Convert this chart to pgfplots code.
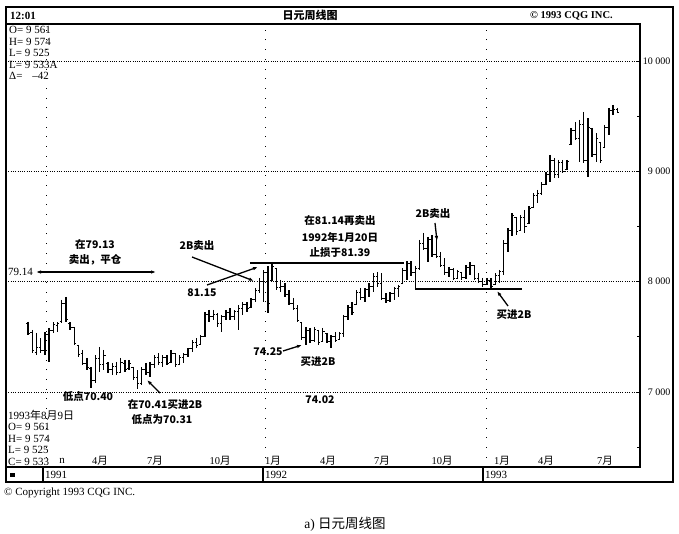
\documentclass[border=0pt]{standalone}
\usepackage{pgfplots}
\pgfplotsset{compat=1.18}
\usepackage{pgfplotstable}
\usepackage{fontspec}
\setmainfont{Liberation Serif}
\newfontfamily\cjk{Noto Sans CJK SC}
\usetikzlibrary{arrows.meta}

\pgfdeclareplotmark{otick}{\pgfpathmoveto{\pgfqpoint{-1.9pt}{0pt}}\pgfpathlineto{\pgfqpoint{0pt}{0pt}}\pgfusepathqstroke}
\pgfdeclareplotmark{ctick}{\pgfpathmoveto{\pgfqpoint{0pt}{0pt}}\pgfpathlineto{\pgfqpoint{1.9pt}{0pt}}\pgfusepathqstroke}

\pgfplotstableread{
i h l o c
0 7637 7517 7620 7530
1 7562 7353 7540 7380
2 7535 7335 7360 7400
3 7489 7353 7400 7380
4 7544 7335 7380 7520
5 7580 7272 7520 7560
6 7634 7535 7560 7610
7 7634 7544 7600 7620
8 7834 7625 7640 7800
9 7861 7634 7800 7660
10 7634 7562 7620 7580
11 7589 7426 7580 7440
12 7426 7317 7420 7340
13 7381 7245 7350 7260
14 7308 7199 7260 7220
15 7227 7040 7210 7100
16 7335 7082 7100 7300
17 7408 7181 7300 7250
18 7381 7199 7250 7330
19 7272 7172 7260 7200
20 7263 7154 7200 7230
21 7272 7154 7230 7180
22 7308 7172 7180 7270
23 7290 7181 7260 7200
24 7290 7199 7210 7260
25 7227 7109 7220 7130
26 7199 7031 7130 7080
27 7227 7063 7080 7200
28 7263 7154 7200 7180
29 7272 7136 7180 7250
30 7335 7218 7250 7310
31 7353 7245 7310 7270
32 7335 7227 7270 7310
33 7335 7245 7310 7260
34 7381 7263 7270 7350
35 7353 7227 7350 7250
36 7335 7245 7250 7310
37 7353 7263 7310 7340
38 7399 7317 7340 7390
39 7471 7363 7390 7450
40 7489 7399 7450 7420
41 7517 7426 7430 7500
42 7725 7498 7500 7700
43 7743 7634 7700 7680
44 7743 7653 7680 7700
45 7716 7589 7700 7620
46 7698 7544 7620 7680
47 7743 7653 7680 7720
48 7761 7653 7720 7680
49 7743 7653 7680 7730
50 7788 7562 7730 7760
51 7816 7698 7760 7790
52 7816 7725 7790 7760
53 7852 7761 7770 7840
54 7943 7816 7840 7920
55 8033 7897 7920 8000
56 8106 7816 8000 8080
57 8142 7716 8080 7800
58 8178 8006 8010 8140
59 8124 7924 8120 7950
60 8015 7906 7950 7960
61 7988 7861 7960 7880
62 7924 7788 7880 7800
63 7852 7743 7800 7760
64 7788 7634 7760 7650
65 7634 7471 7630 7490
66 7589 7426 7490 7560
67 7580 7444 7560 7470
68 7589 7453 7470 7570
69 7562 7426 7560 7450
70 7580 7453 7460 7550
71 7535 7444 7530 7460
72 7517 7402 7460 7500
73 7544 7453 7500 7470
74 7544 7471 7480 7530
75 7698 7498 7530 7680
76 7788 7653 7680 7770
77 7816 7698 7770 7720
78 7924 7788 7790 7900
79 7943 7834 7900 7860
80 7943 7816 7860 7930
81 7988 7861 7930 7960
82 8078 7906 7960 8050
83 8088 7952 8050 7980
84 8078 7834 7980 7850
85 7897 7807 7850 7830
86 7906 7816 7830 7890
87 7952 7834 7890 7940
88 7970 7861 7940 7960
89 8124 7979 7980 8100
90 8187 8015 8100 8160
91 8187 8051 8160 8080
92 8142 7943 8080 8120
93 8378 8106 8120 8350
94 8441 8287 8350 8300
95 8405 8178 8300 8380
96 8423 8224 8380 8250
97 8396 8214 8250 8230
98 8269 8133 8230 8150
99 8214 8060 8150 8080
100 8133 8042 8080 8110
101 8124 8015 8110 8030
102 8106 8024 8030 8090
103 8088 8015 8080 8040
104 8151 8024 8040 8130
105 8178 8060 8130 8150
106 8151 8015 8150 8030
107 8078 7988 8030 8000
108 8033 7952 8000 7970
109 8033 7970 7975 8010
110 8033 7943 8010 7960
111 8078 7970 7975 8060
112 8106 7988 8060 8090
113 8378 8060 8090 8350
114 8486 8269 8350 8460
115 8622 8414 8460 8600
116 8586 8423 8580 8450
117 8604 8459 8460 8580
118 8650 8441 8580 8500
119 8686 8523 8530 8660
120 8804 8668 8670 8780
121 8831 8713 8780 8800
122 8903 8785 8800 8880
123 8994 8876 8880 8970
124 9148 8903 8970 9100
125 9121 8940 9100 8970
126 9103 8940 8970 9080
127 9103 8985 9080 9000
128 9103 9012 9020 9090
129 9393 9239 9240 9370
130 9447 9284 9370 9300
131 9465 9085 9300 9420
132 9538 9076 9420 9100
133 9483 8949 9100 9400
134 9393 9130 9390 9150
135 9347 9085 9150 9300
136 9266 9076 9260 9100
137 9420 9211 9220 9400
138 9574 9329 9400 9550
139 9601 9511 9550 9560
140 9574 9525 9561 9533
}\data

\tikzset{
  cn/.style={font=\cjk\bfseries\fontsize{10.5}{12}\selectfont, inner sep=0pt},
  lt/.style={font=\fontsize{11}{12}\selectfont, inner sep=0pt},
  arr/.style={-{Latex[length=5pt,width=3.5pt]}, line width=1.3pt},
}

\begin{document}
\begin{tikzpicture}
\useasboundingbox (0pt,0pt) rectangle (679pt,-534pt);
\begin{axis}[
  at={(6pt,-467pt)}, anchor=south west,
  width=634pt, height=443pt, scale only axis,
  xmin=-5.23, xmax=145.37, ymin=6320, ymax=10335,
  axis line style={line width=1.2pt},
  xtick=\empty,
  extra x ticks={4.28,56.3,108.8},
  extra x tick labels={},
  extra x tick style={grid=major, major tick length=0pt,
     grid style={black, line width=0.7pt, dash pattern=on 0.7pt off 9pt}},
  ytick={7000,8000,9000,10000},
  yticklabels={7 000,8 000,9 000,10 000},
  scaled y ticks=false,
  minor ytick={6500,7500,8500,9500},
  ytick pos=right, yticklabel pos=right,
  tick align=inside,
  major tick length=3pt, minor tick length=3pt,
  tick style={black, line width=0.8pt},
  ymajorgrids,
  grid style={black, line width=0.6pt, dash pattern=on 0.6pt off 1.7pt},
  yticklabel style={font=\fontsize{10}{11}\selectfont, anchor=east, xshift=34pt},
  clip=false,
]
\addplot[draw=none, no markers,
  error bars/.cd, y dir=minus, y explicit, error mark=none,
  error bar style={draw=black, solid, line width=1.4pt}]
  table[x=i, y=h, y error minus expr=\thisrow{h}-\thisrow{l}] {\data};
\addplot[only marks, mark=otick, black, mark options={line width=1pt}] table[x=i, y=o] {\data};
\addplot[only marks, mark=ctick, black, mark options={line width=1pt}] table[x=i, y=c] {\data};
\addplot[black, line width=1.8pt, mark=none] coordinates {(52.7,8169) (89.3,8169)};
\addplot[black, line width=1.8pt, mark=none] coordinates {(91.9,7933) (117.3,7933)};
\end{axis}

\begin{scope}[x=1pt,y=1pt]
% frames
\draw[line width=1.5pt] (6,-7) rectangle (673,-482);
\draw[line width=1.2pt] (6,-467) -- (640,-467);
\foreach \xx in {43,263,483} \draw[line width=1.2pt] (\xx,-467) -- (\xx,-482);
\fill (10,-472.5) rectangle (14.5,-477);

% header
\node[lt, anchor=west, font=\bfseries\fontsize{11}{12}\selectfont] at (10,-15.5) {12:01};
\node[cn, font=\cjk\bfseries\fontsize{11}{12}\selectfont] at (310,-15.5) {日元周线图};
\node[lt, anchor=west, font=\bfseries\fontsize{10.5}{12}\selectfont] at (530,-15.5) {© 1993 CQG INC.};

% top-left info
\node[lt, anchor=west] at (9,-30) {O= 9 561};
\node[lt, anchor=west] at (9,-42) {H= 9 574};
\node[lt, anchor=west] at (9,-53) {L= 9 525};
\node[lt, anchor=west] at (9,-64.5) {L= 9 533A};
\node[lt, anchor=west] at (9,-76) {Δ=\hspace{10pt}--42};

% bottom-left info
\node[lt, anchor=west] at (8,-415) {1993{\cjk 年}8{\cjk 月}9{\cjk 日}};
\node[lt, anchor=west] at (8,-427) {O= 9 561};
\node[lt, anchor=west] at (8,-439) {H= 9 574};
\node[lt, anchor=west] at (8,-450) {L= 9 525};
\node[lt, anchor=west] at (8,-462) {C= 9 533};
\node[lt] at (62,-461) {n};

% month labels
\foreach \px/\m in {100/4,155/7,220/10,273/1,328/4,382/7,442/10,502/1,546/4,605/7}
  \node[lt, font=\fontsize{10.5}{12}\selectfont] at (\px,-461) {\m{\cjk 月}};

% year labels
\node[lt, anchor=west] at (45,-475) {1991};
\node[lt, anchor=west] at (265,-475) {1992};
\node[lt, anchor=west] at (485,-475) {1993};

% annotations
\node[cn] at (95,-245) {在79.13};
\node[cn] at (95,-260) {卖出，平仓};
\node[lt, anchor=west] at (8,-272) {79.14};
\draw[{Latex[length=5pt,width=3.5pt]}-{Latex[length=5pt,width=3.5pt]}, line width=1.2pt] (36,-272) -- (156,-272);

\node[cn] at (197,-246) {2B卖出};
\draw[arr] (192,-257) -- (254,-281);
\node[cn] at (202,-293) {81.15};
\draw[arr] (207,-285) -- (258,-267);

\node[cn] at (340,-221) {在81.14再卖出};
\node[cn] at (340,-237) {1992年1月20日};
\node[cn] at (340,-253) {止损于81.39};

\node[cn] at (268,-352) {74.25};
\draw[arr] (283,-351) -- (302,-345);
\node[cn] at (318,-362) {买进2B};
\node[cn] at (320,-400) {74.02};

\node[cn] at (88,-397) {低点70.40};
\node[cn] at (165,-405) {在70.41买进2B};
\node[cn] at (162,-420) {低点为70.31};
\draw[arr] (160,-393) -- (147,-380);

\node[cn] at (433,-214) {2B卖出};
\draw[arr] (435,-223) -- (437,-241);
\node[cn] at (514,-315) {买进2B};
\draw[arr] (508,-306) -- (497,-291);

% footer
\node[lt, anchor=west] at (4,-493) {© Copyright 1993 CQG INC.};
\node[font=\fontsize{13.5}{15}\selectfont, inner sep=0pt] at (345,-524) {a) {\cjk 日元周线图}};
\end{scope}
\end{tikzpicture}
\end{document}
